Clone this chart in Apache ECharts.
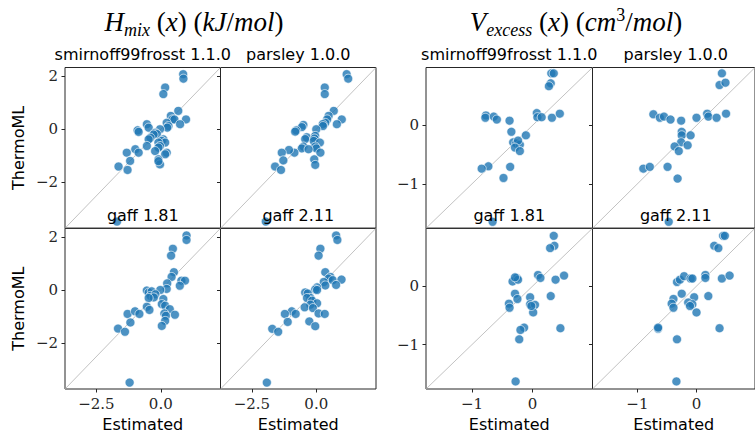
<!DOCTYPE html>
<html>
<head>
<meta charset="utf-8">
<script src="https://cdn.jsdelivr.net/npm/echarts@6/dist/echarts.min.js"></script>
<style>
html, body {margin: 0; padding: 0; background: #fff;}
#chart {width: 755px; height: 435px;}
</style>
</head>
<body>
<div id="chart"></div>
<script>
// force field names, one per panel (row by row)
var panelTitles = ['smirnoff99frosst 1.1.0', 'parsley 1.0.0', 'gaff 1.81', 'gaff 2.11'];

// axis limits shared by x and y inside each group
var hmixLimits = [-3.72, 2.32];
var vexLimits = [-1.76, 0.99];
var hmixXTicks = [-2.5, 0];
var hmixYTicks = [-2, 0, 2];
var vexTicks = [-1, 0];

// H_mix : [estimated, ThermoML]
var hmixSmirnoff = [
    [0.87, 2.07], [0.88, 1.9], [0.17, 1.57], [0.1, 1.32], [0.68, 0.69], [0.39, 0.5],
    [0.45, 0.37], [0.53, 0.37], [0.98, 0.37], [0.75, 0.19], [0.23, 0.24], [0.3, 0.12],
    [0.25, 0.06], [-0.54, 0.19], [-0.47, 0.06], [-0.9, -0.04], [-0.86, -0.1], [-0.03, 0],
    [-0.22, -0.13], [-0.15, -0.18], [-0.28, -0.2], [-0.4, -0.32], [-0.47, -0.38], [0.1, -0.38],
    [0.04, -0.44], [0.17, -0.5], [-0.09, -0.5], [-0.03, -0.63], [-0.54, -0.63], [0.23, -0.88],
    [0.17, -0.94], [-0.09, -0.69], [-0.22, -0.82], [-0.99, -0.75], [-0.86, -0.88], [-1.32, -0.88],
    [-1.19, -1.19], [-0.09, -1.13], [-0.03, -1.32], [-0.09, -1.2], [-1.64, -1.4], [-1.29, -1.53],
    [-1.7, -3.47]
];
var hmixParsley = [
    [1.18, 2.07], [1.24, 1.9], [0.33, 1.57], [0.33, 1.32], [0.68, 0.69], [0.48, 0.5],
    [0.42, 0.37], [0.35, 0.24], [0.99, 0.37], [0.8, 0.19], [0.25, 0.19], [0.26, 0.12],
    [0, 0], [-0.5, 0.16], [-0.56, 0.08], [-0.78, -0.04], [-0.82, -0.09], [-0.37, -0.3],
    [-0.43, -0.37], [-0.04, -0.25], [-0.07, -0.35], [-0.1, -0.44], [0.14, -0.5], [-0.5, -0.65],
    [-0.56, -0.72], [-0.04, -0.65], [0, -0.72], [-0.3, -0.75], [0.16, -0.88], [-0.85, -0.88],
    [-1.06, -0.78], [-1.34, -0.88], [-1.28, -1.17], [-0.08, -1.13], [-0.04, -1.34], [-1.6, -1.4],
    [-1.37, -1.53], [-1.96, -3.47]
];
var hmixGaff181 = [
    [1.0, 2.05], [1.0, 1.88], [0.47, 1.55], [0.4, 1.29], [0.51, 0.67], [0.42, 0.49],
    [0.25, 0.25], [0.8, 0.35], [0.94, 0.35], [0.74, 0.16], [0.23, 0.04], [-0.54, -0.02],
    [-0.47, -0.1], [-0.35, -0.05], [-0.02, 0], [-0.4, -0.22], [-0.21, -0.16], [-0.27, -0.28],
    [-0.47, -0.3], [0.1, -0.34], [0.04, -0.53], [0.17, -0.59], [-0.54, -0.63], [-0.44, -0.75],
    [0.35, -0.72], [0.14, -0.88], [0.2, -0.97], [0.55, -0.93], [-1.29, -0.9], [-1.0, -0.8],
    [-0.83, -0.9], [-1.18, -1.22], [0.17, -1.16], [0.04, -1.35], [-1.66, -1.45], [-1.39, -1.57],
    [-1.21, -3.48]
];
var hmixGaff211 = [
    [0.77, 2.05], [0.82, 1.88], [0.16, 1.55], [0.09, 1.29], [0.35, 0.67], [0.55, 0.49],
    [0.48, 0.43], [0.64, 0.37], [0.98, 0.39], [0.77, 0.19], [0.29, 0.3], [0.35, 0.17],
    [0.03, 0.1], [-0.04, 0.02], [0.03, 0], [-0.43, -0.09], [-0.33, -0.13], [-0.23, -0.3],
    [-0.36, -0.3], [-0.16, -0.4], [0.03, -0.5], [-0.23, -0.55], [-0.45, -0.65], [-0.13, -0.68],
    [0.09, -0.88], [0.33, -0.9], [-0.95, -0.8], [-0.8, -0.9], [-1.22, -0.9], [-1.11, -1.2],
    [-0.27, -1.18], [-0.04, -1.36], [-1.71, -1.46], [-1.48, -1.57], [-1.92, -3.48]
];

// V_excess : [estimated, ThermoML]
var vexSmirnoff = [
    [0.31, 0.89], [0.35, 0.89], [0.3, 0.72], [0.27, 0.67], [-0.77, 0.17], [-0.78, 0.13],
    [-0.64, 0.15], [-0.59, 0.1], [-0.38, 0.08], [0.07, 0.21], [0.08, 0.14], [0.15, 0.14],
    [0.32, 0.13], [0.45, 0.2], [-0.35, -0.11], [-0.11, -0.17], [-0.32, -0.29], [-0.27, -0.31],
    [-0.21, -0.33], [-0.24, -0.26], [-0.29, -0.38], [-0.21, -0.44], [-0.37, -0.71], [-0.73, -0.7],
    [-0.84, -0.74], [-0.48, -0.9], [-0.66, -1.65]
];
var vexParsley = [
    [0.43, 0.89], [0.39, 0.69], [0.49, 0.73], [-0.73, 0.19], [-0.62, 0.13], [-0.55, 0.15],
    [-0.44, 0.1], [-0.26, 0.08], [0.0, 0.13], [0.18, 0.2], [0.2, 0.15], [0.34, 0.13],
    [0.5, 0.2], [-0.25, -0.11], [-0.25, -0.17], [-0.1, -0.17], [-0.26, -0.29], [-0.15, -0.34],
    [-0.37, -0.36], [-0.3, -0.44], [-0.9, -0.74], [-0.79, -0.71], [-0.49, -0.71], [-0.32, -0.91],
    [-0.47, -1.65]
];
var vexGaff181 = [
    [0.35, 0.86], [0.36, 0.69], [0.29, 0.65], [-0.26, 0.14], [-0.33, 0.08], [-0.24, 0.11],
    [-0.29, 0.15], [0.09, 0.19], [0.13, 0.14], [0.38, 0.11], [0.52, 0.18], [-0.29, -0.13],
    [-0.04, -0.19], [0.3, -0.17], [-0.39, -0.3], [-0.25, -0.22], [-0.38, -0.37], [-0.04, -0.31],
    [0.04, -0.32], [0.01, -0.45], [-0.02, -0.34], [-0.14, -0.71], [-0.2, -0.75], [-0.22, -0.91],
    [0.46, -0.72], [-0.28, -1.63]
];
var vexGaff211 = [
    [0.45, 0.86], [0.48, 0.86], [0.3, 0.69], [0.37, 0.65], [-0.33, 0.07], [-0.28, 0.11],
    [-0.21, 0.17], [-0.1, 0.13], [-0.07, 0.13], [0.15, 0.19], [0.15, 0.14], [0.43, 0.13],
    [0.56, 0.18], [-0.25, -0.13], [-0.39, -0.22], [-0.04, -0.19], [0.2, -0.17], [-0.42, -0.3],
    [-0.39, -0.37], [-0.14, -0.28], [-0.07, -0.31], [-0.11, -0.34], [0, -0.45], [-0.65, -0.73],
    [-0.65, -0.71], [0.39, -0.72], [-0.33, -0.91], [-0.34, -1.63]
];

var groups = [
    {
        limits: hmixLimits, xTicks: hmixXTicks, yTicks: hmixYTicks, xDec: 1, yDec: 0,
        panels: [hmixSmirnoff, hmixParsley, hmixGaff181, hmixGaff211],
        left: 65, top: 67.5, cellW: 155.5, cellH: 160.75, yName: 'ThermoML'
    },
    {
        limits: vexLimits, xTicks: vexTicks, yTicks: vexTicks, xDec: 0, yDec: 0,
        panels: [vexSmirnoff, vexParsley, vexGaff181, vexGaff211],
        left: 426, top: 67.5, cellW: 166.5, cellH: 160.75, yName: ''
    }
];

var ink = '#262626';
var tickFont = 'DejaVu Serif';
var sansFont = 'DejaVu Sans';

function fmt(dec) {
    return function(v) {
        var s = Math.abs(v).toFixed(dec);
        return (v < 0 ? '\u2212' : '') + s;
    };
}

var grids = [], xAxes = [], yAxes = [], series = [], texts = [];

groups.forEach(function(g) {
    for (var i = 0; i < 4; i++) {
        var col = i % 2, row = Math.floor(i / 2);
        var k = grids.length;
        var gl = g.left + col * g.cellW, gt = g.top + row * g.cellH;
        grids.push({
            left: gl, top: gt, width: g.cellW, height: g.cellH,
            show: true, borderColor: ink, borderWidth: 1, backgroundColor: 'transparent'
        });
        xAxes.push({
            gridIndex: k, type: 'value', min: g.limits[0], max: g.limits[1],
            axisLine: {show: false, onZero: false}, splitLine: {show: false},
            axisTick: {show: row == 1, customValues: g.xTicks, length: 3.5, lineStyle: {color: ink}},
            axisLabel: {
                show: row == 1, customValues: g.xTicks, formatter: fmt(g.xDec), margin: 7,
                fontFamily: tickFont, fontSize: 15, color: ink
            },
            name: row == 1 ? 'Estimated' : '', nameLocation: 'middle', nameGap: 27,
            nameTextStyle: {fontFamily: sansFont, fontSize: 16, color: '#000'}
        });
        yAxes.push({
            gridIndex: k, type: 'value', min: g.limits[0], max: g.limits[1],
            axisLine: {show: false, onZero: false}, splitLine: {show: false},
            axisTick: {show: true, customValues: g.yTicks, length: 3.5, lineStyle: {color: ink}},
            axisLabel: {
                show: col == 0, customValues: g.yTicks, formatter: fmt(g.yDec), margin: 7,
                fontFamily: tickFont, fontSize: 15, color: ink
            },
            name: col == 0 ? g.yName : '', nameLocation: 'middle', nameGap: 39,
            nameTextStyle: {fontFamily: sansFont, fontSize: 16, color: '#000'}
        });
        series.push({
            type: 'line', xAxisIndex: k, yAxisIndex: k, silent: true, z: 1,
            data: [[g.limits[0], g.limits[0]], [g.limits[1], g.limits[1]]],
            symbol: 'none', lineStyle: {color: '#b3b3b3', width: 0.8}
        });
        series.push({
            type: 'scatter', xAxisIndex: k, yAxisIndex: k, z: 2,
            data: g.panels[i], symbolSize: 9,
            itemStyle: {color: '#1f77b4', borderColor: '#fff', borderWidth: 0.8, opacity: 0.8}
        });
        texts.push({
            type: 'text', z: 100,
            style: {
                x: gl + g.cellW / 2, y: gt - 13, text: panelTitles[i],
                align: 'center', verticalAlign: 'middle',
                font: '16px "DejaVu Sans"', fill: '#000'
            }
        });
    }
});

var mathRich = {
    it: {fontFamily: 'Liberation Serif', fontStyle: 'italic', fontSize: 27, lineHeight: 33},
    r: {fontFamily: 'Liberation Serif', fontSize: 27, lineHeight: 33},
    sub: {fontFamily: 'Liberation Serif', fontStyle: 'italic', fontSize: 18, lineHeight: 17, verticalAlign: 'bottom'},
    sup: {fontFamily: 'Liberation Serif', fontSize: 18, lineHeight: 17, verticalAlign: 'top'}
};

texts.push({
    type: 'text', z: 100,
    style: {
        x: 194, y: 22, align: 'center', verticalAlign: 'middle', fill: '#000',
        text: '{it|H}{sub|mix}{r| (}{it|x}{r|) (}{it|kJ}{r|/}{it|mol}{r|)}', rich: mathRich
    }
});
texts.push({
    type: 'text', z: 100,
    style: {
        x: 576, y: 22, align: 'center', verticalAlign: 'middle', fill: '#000',
        text: '{it|V}{sub|excess}{r| (}{it|x}{r|) (}{it|cm}{sup|3}{r|/}{it|mol}{r|)}', rich: mathRich
    }
});

var myChart = echarts.init(document.getElementById('chart'), null, {renderer: 'svg'});
myChart.setOption({
    animation: false,
    backgroundColor: '#fff',
    grid: grids,
    xAxis: xAxes,
    yAxis: yAxes,
    series: series,
    graphic: texts
});
</script>
</body>
</html>
